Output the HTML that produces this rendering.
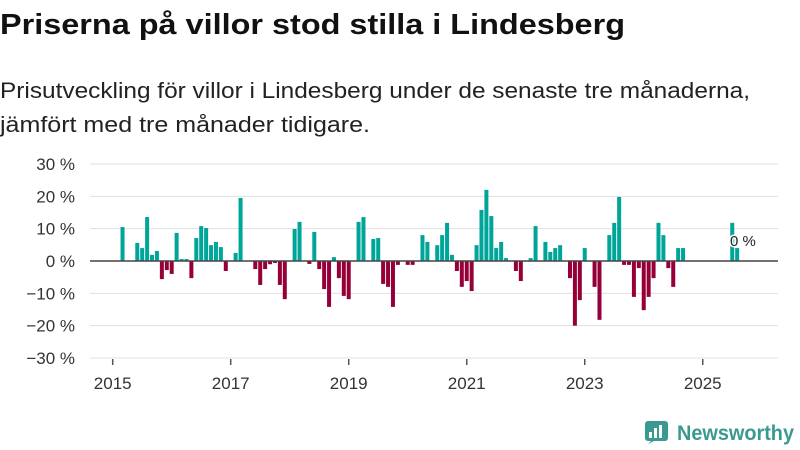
<!DOCTYPE html>
<html><head><meta charset="utf-8"><style>
body{margin:0;background:#fff;width:800px;height:450px;overflow:hidden;font-family:"Liberation Sans",sans-serif;}
</style></head><body>
<svg width="800" height="450" style="position:absolute;left:0;top:0">
<text x="0" y="34" font-size="29" font-weight="bold" fill="#111" textLength="625" lengthAdjust="spacingAndGlyphs">Priserna på villor stod stilla i Lindesberg</text>
<text x="0" y="98" font-size="22" fill="#222" textLength="750" lengthAdjust="spacingAndGlyphs">Prisutveckling för villor i Lindesberg under de senaste tre månaderna,</text>
<text x="0" y="132" font-size="22" fill="#222" textLength="370" lengthAdjust="spacingAndGlyphs">jämfört med tre månader tidigare.</text>
<g id="grid"></g><g id="bars"></g><g id="axes"></g>
<g>
<rect x="645" y="421" width="23" height="20" rx="3" fill="#3a9a8f"/>
<polygon points="648,444 652,440 656,440" fill="#3a9a8f"/>
<rect x="649" y="432" width="3" height="6" fill="#fff"/><rect x="654" y="428" width="3" height="10" fill="#fff"/><rect x="659" y="425" width="3" height="13" fill="#fff"/>
<text x="677" y="440" font-size="21" font-weight="bold" fill="#3a9a8f" textLength="117" lengthAdjust="spacingAndGlyphs">Newsworthy</text>
</g>
</svg>
<script>
const yTicks=[30,20,10,0,-10,-20,-30];
const yearLabels=[2015,2017,2019,2021,2023,2025];
const values=[null,null,10.5,null,null,5.6,4.0,13.6,1.9,3.1,-5.6,-2.8,-4.0,8.7,0.6,0.6,-5.3,7.1,10.8,10.2,4.9,5.9,4.3,-3.1,null,2.5,19.5,null,null,-2.5,-7.4,-2.5,-1.0,-0.6,-7.4,-11.8,null,9.9,12.1,null,-0.9,9.0,-2.5,-8.7,-14.2,1.2,-5.3,-10.8,-11.8,null,12.1,13.6,null,6.8,7.1,-7.1,-8.0,-14.2,-1.2,null,-1.2,-1.2,null,8.0,5.9,null,4.9,8.0,11.8,1.9,-3.1,-8.0,-6.2,-9.3,4.9,15.8,22.0,13.9,4.0,5.9,0.9,null,-3.1,-6.2,null,0.9,10.8,null,5.9,2.8,4.0,4.9,null,-5.3,-20.0,-12.1,4.0,null,-8.0,-18.2,null,8.0,11.8,19.8,-1.2,-1.2,-11.1,-2.2,-15.2,-11.1,-5.3,11.8,8.0,-2.2,-8.0,4.0,4.0,null,null,null,null,null,null,null,null,null,11.8,4.0];
const lastLabel="0 %";
const NS="http://www.w3.org/2000/svg";
const x0=112.7,mw=4.917;
function xScale(i){return x0+i*mw;}
function yScale(v){return 261-v*3.233;}
function mk(tag,attrs,parent){const e=document.createElementNS(NS,tag);for(const k in attrs)e.setAttribute(k,attrs[k]);parent.appendChild(e);return e;}
const grid=document.getElementById('grid'),bars=document.getElementById('bars'),axes=document.getElementById('axes');
yTicks.forEach(t=>{
  if(t!==0){const l=mk('line',{x1:90,x2:778,y1:yScale(t),y2:yScale(t),stroke:'#e0e0e0','stroke-width':1},grid);
  
  }
  const tx=mk('text',{x:75,y:yScale(t)+6,'text-anchor':'end','font-size':17,fill:'#333'},axes);
  tx.textContent=(t<0?'−'+(-t):t)+' %';
  
  
});
values.forEach((v,i)=>{
  if(v===null)return;
  const y=yScale(Math.max(v,0)),h=Math.abs(yScale(v)-yScale(0));
  const r=mk('rect',{x:xScale(i)-2,y:y,width:4,height:Math.max(h,0.8),fill:v>=0?'#00a59a':'#960038'},bars);
  
  
});
const zl=mk('line',{x1:90,x2:778,y1:yScale(0),y2:yScale(0),stroke:'#444','stroke-width':1.5},axes);


yearLabels.forEach(yr=>{
  const x=xScale((yr-2015)*12);
  const tk=mk('line',{x1:x,x2:x,y1:359,y2:365,stroke:'#555','stroke-width':1.5},axes);
  
  
  const tx=mk('text',{x:x,y:389,'text-anchor':'middle','font-size':17,fill:'#333'},axes);
  tx.textContent=yr;
  
  
});
const lb=mk('text',{x:730,y:246,'font-size':15,fill:'#222',stroke:'#fff','stroke-width':3,'paint-order':'stroke'},axes);
lb.textContent=lastLabel;


</script>
</body></html>
